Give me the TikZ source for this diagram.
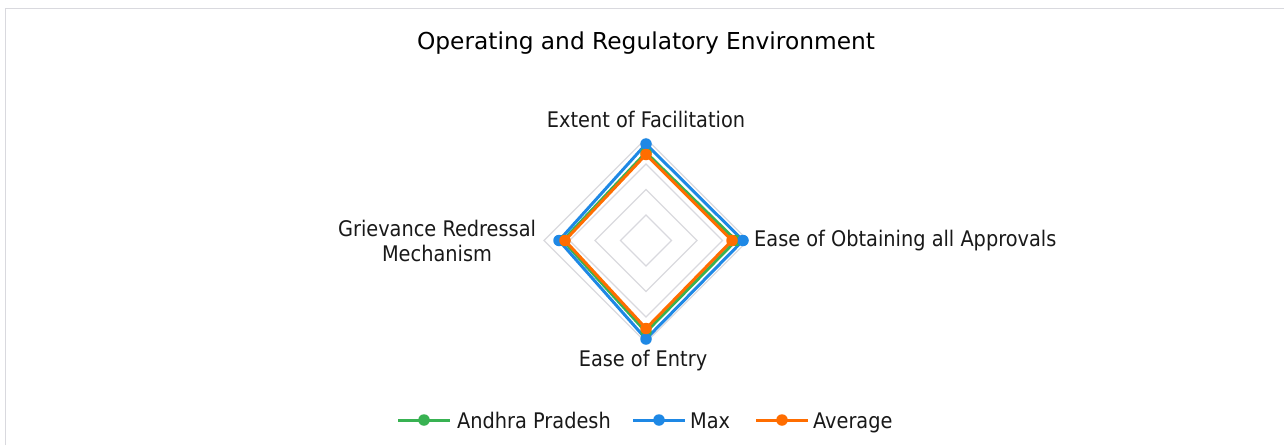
\documentclass[tikz,border=0pt]{standalone}
\usepackage{fontspec}
\setmainfont{DejaVu Sans}
\newfontfamily\condfont{DejaVu Sans Condensed}
\definecolor{apgreen}{RGB}{56,178,82}
\definecolor{maxblue}{RGB}{30,136,229}
\definecolor{avgorange}{RGB}{255,109,0}
\definecolor{gridgray}{RGB}{217,217,222}
\definecolor{txt}{RGB}{25,25,25}
\tikzset{
  lbl/.style={font=\condfont\fontsize{21.5}{25}\selectfont, text=txt, inner sep=0pt},
  ring/.style={draw=gridgray, line width=1.3pt},
  series/.style={line width=3pt, line join=round},
  dot/.style={circle, fill=#1, inner sep=0pt, minimum size=11.5pt},
}
\begin{document}
\begin{tikzpicture}[x=1pt,y=-1pt]
\useasboundingbox (0,0) rectangle (1284,445);
\draw[gridgray, line width=1.5pt] (5.5,445) -- (5.5,8.5) -- (1284,8.5);
\coordinate (c) at (646,240.5);
\foreach \r in {25.5,51,76.5,102}{
  \draw[ring] ([yshift=-\r pt]c) -- ([xshift=\r pt]c) -- ([yshift=\r pt]c) -- ([xshift=-\r pt]c) -- cycle;
}
% title
\node[lbl, font=\fontsize{23.3}{27}\selectfont, text=black] (title) at (646,43) {Operating and Regulatory Environment};
% axis labels
\node[lbl] (efac) at (646,119) {Extent of Facilitation};
\node[lbl, anchor=west] (eoaa) at (754,241) {Ease of Obtaining all Approvals};
\node[lbl, align=center] (grm) at (437,241) {Grievance Redressal\\Mechanism};
\node[lbl] (eent) at (643,361) {Ease of Entry};
% series: top, right, bottom, left
\coordinate (m1) at (646,144); \coordinate (m2) at (743,240.5); \coordinate (m3) at (646,339); \coordinate (m4) at (559,240.5);
\coordinate (a1) at (646,152.5); \coordinate (a2) at (736,240.5); \coordinate (a3) at (646,332); \coordinate (a4) at (563,240.5);
\coordinate (o1) at (646,154.5); \coordinate (o2) at (732,240.5); \coordinate (o3) at (646,328.5); \coordinate (o4) at (565,240.5);
\draw[series, apgreen] (a1) -- (a2) -- (a3) -- (a4) -- cycle;
\draw[series, maxblue] (m1) -- (m2) -- (m3) -- (m4) -- cycle;
\foreach \p in {a1,a2,a3,a4} \node[dot=apgreen] at (\p) {};
\foreach \p in {m1,m2,m3,m4} \node[dot=maxblue] at (\p) {};
\draw[series, avgorange] (o1) -- (o2) -- (o3) -- (o4) -- cycle;
\foreach \p in {o1,o2,o3,o4} \node[dot=avgorange] at (\p) {};
% legend
\coordinate (lg1) at (398,420); \coordinate (lg2) at (450,420);
\draw[series, apgreen] (lg1) -- (lg2);
\node[dot=apgreen] (lgd1) at (424,420) {};
\node[lbl, anchor=base west] (lgt1) at (457,428) {Andhra Pradesh};
\coordinate (lb1) at (633,420); \coordinate (lb2) at (685,420);
\draw[series, maxblue] (lb1) -- (lb2);
\node[dot=maxblue] (lgd2) at (659,420) {};
\node[lbl, anchor=base west] (lgt2) at (690,428) {Max};
\coordinate (lo1) at (756,420); \coordinate (lo2) at (808,420);
\draw[series, avgorange] (lo1) -- (lo2);
\node[dot=avgorange] (lgd3) at (782,420) {};
\node[lbl, anchor=base west] (lgt3) at (813,428) {Average};
\end{tikzpicture}
\end{document}
